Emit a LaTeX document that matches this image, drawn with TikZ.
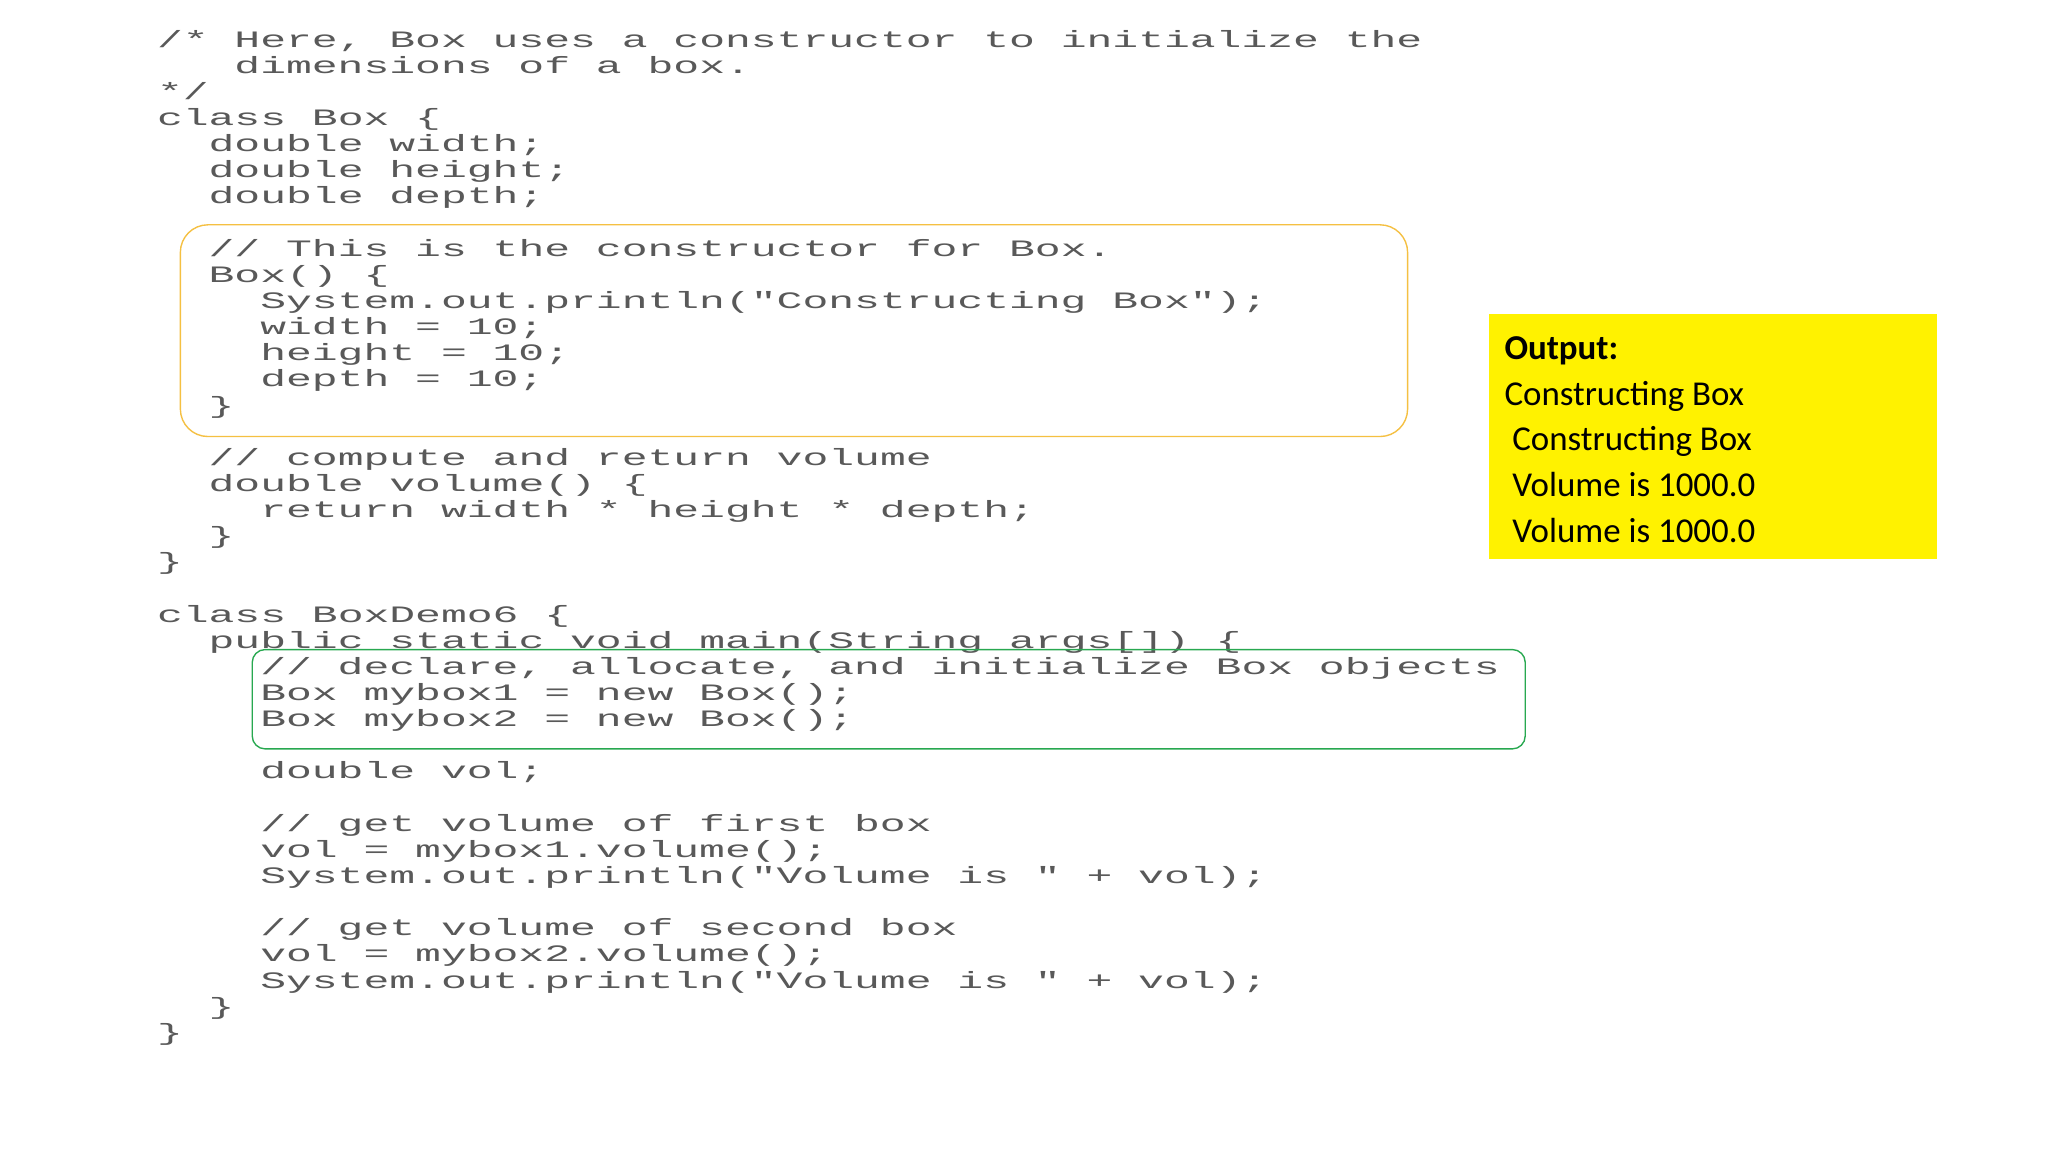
\documentclass[tikz,border=0pt]{standalone}
\usepackage{fontspec}
\newfontfamily\codefont[FakeStretch=1.83]{Liberation Mono}
\newfontfamily\outfont{Carlito}
\begin{document}
\begin{tikzpicture}[x=0.05cm,y=-0.05cm,
  codeline/.style={anchor=base west,inner sep=0pt,text=black!65,font=\codefont\fontsize{25.6pt}{28pt}\selectfont},
  outline/.style={anchor=base west,inner sep=0pt,text=black,font=\outfont\fontsize{38pt}{40pt}\selectfont}]
\useasboundingbox (0,0) rectangle (1567,881);
\fill[white] (0,0) rectangle (1567,881);
\newcommand{\cl}[4]{\node[codeline] (#1) at ({120+#2*19.75},{#3+6}) {#4};}
\cl{l1}{0}{30}{/* Here, Box uses a constructor to initialize the}
\cl{l2}{3}{50}{dimensions of a box.}
\cl{l3}{0}{70}{*/}
\cl{l4}{0}{90}{class Box \{}
\cl{l5}{2}{110}{double width;}
\cl{l6}{2}{130}{double height;}
\cl{l7}{2}{150}{double depth;}
\cl{l8}{2}{190}{// This is the constructor for Box.}
\cl{l9}{2}{210}{Box() \{}
\cl{l10}{4}{230}{System.out.println("Constructing Box");}
\cl{l11}{4}{250}{width = 10;}
\cl{l12}{4}{270}{height = 10;}
\cl{l13}{4}{290}{depth = 10;}
\cl{l14}{2}{310}{\}}
\cl{l15}{2}{350}{// compute and return volume}
\cl{l16}{2}{370}{double volume() \{}
\cl{l17}{4}{390}{return width * height * depth;}
\cl{l18}{2}{410}{\}}
\cl{l19}{0}{430}{\}}
\cl{l20}{0}{470}{class BoxDemo6 \{}
\cl{l21}{2}{490}{public static void main(String args[]) \{}
\cl{l22}{4}{510}{// declare, allocate, and initialize Box objects}
\cl{l23}{4}{530}{Box mybox1 = new Box();}
\cl{l24}{4}{550}{Box mybox2 = new Box();}
\cl{l25}{4}{590}{double vol;}
\cl{l26}{4}{630}{// get volume of first box}
\cl{l27}{4}{650}{vol = mybox1.volume();}
\cl{l28}{4}{670}{System.out.println("Volume is " + vol);}
\cl{l29}{4}{710}{// get volume of second box}
\cl{l30}{4}{730}{vol = mybox2.volume();}
\cl{l31}{4}{750}{System.out.println("Volume is " + vol);}
\cl{l32}{2}{770}{\}}
\cl{l33}{0}{790}{\}}
\draw[color={rgb,255:red,245;green,192;blue,66},line width=1.5pt,rounded corners=30] (138,172) rectangle (1077,334);
\draw[color={rgb,255:red,40;green,168;blue,80},line width=1.5pt,rounded corners=14] (193,497) rectangle (1167,573);
\fill[yellow] (1139,240) rectangle (1482,428);
\node[outline,font=\outfont\bfseries\fontsize{38pt}{40pt}\selectfont] (o1) at (1151,275) {Output:};
\node[outline] (o2) at (1151,310) {Constructing Box};
\node[outline] (o3) at (1157,345) {Constructing Box};
\node[outline] (o4) at (1157,380) {Volume is 1000.0};
\node[outline] (o5) at (1157,415) {Volume is 1000.0};
\end{tikzpicture}
\end{document}
